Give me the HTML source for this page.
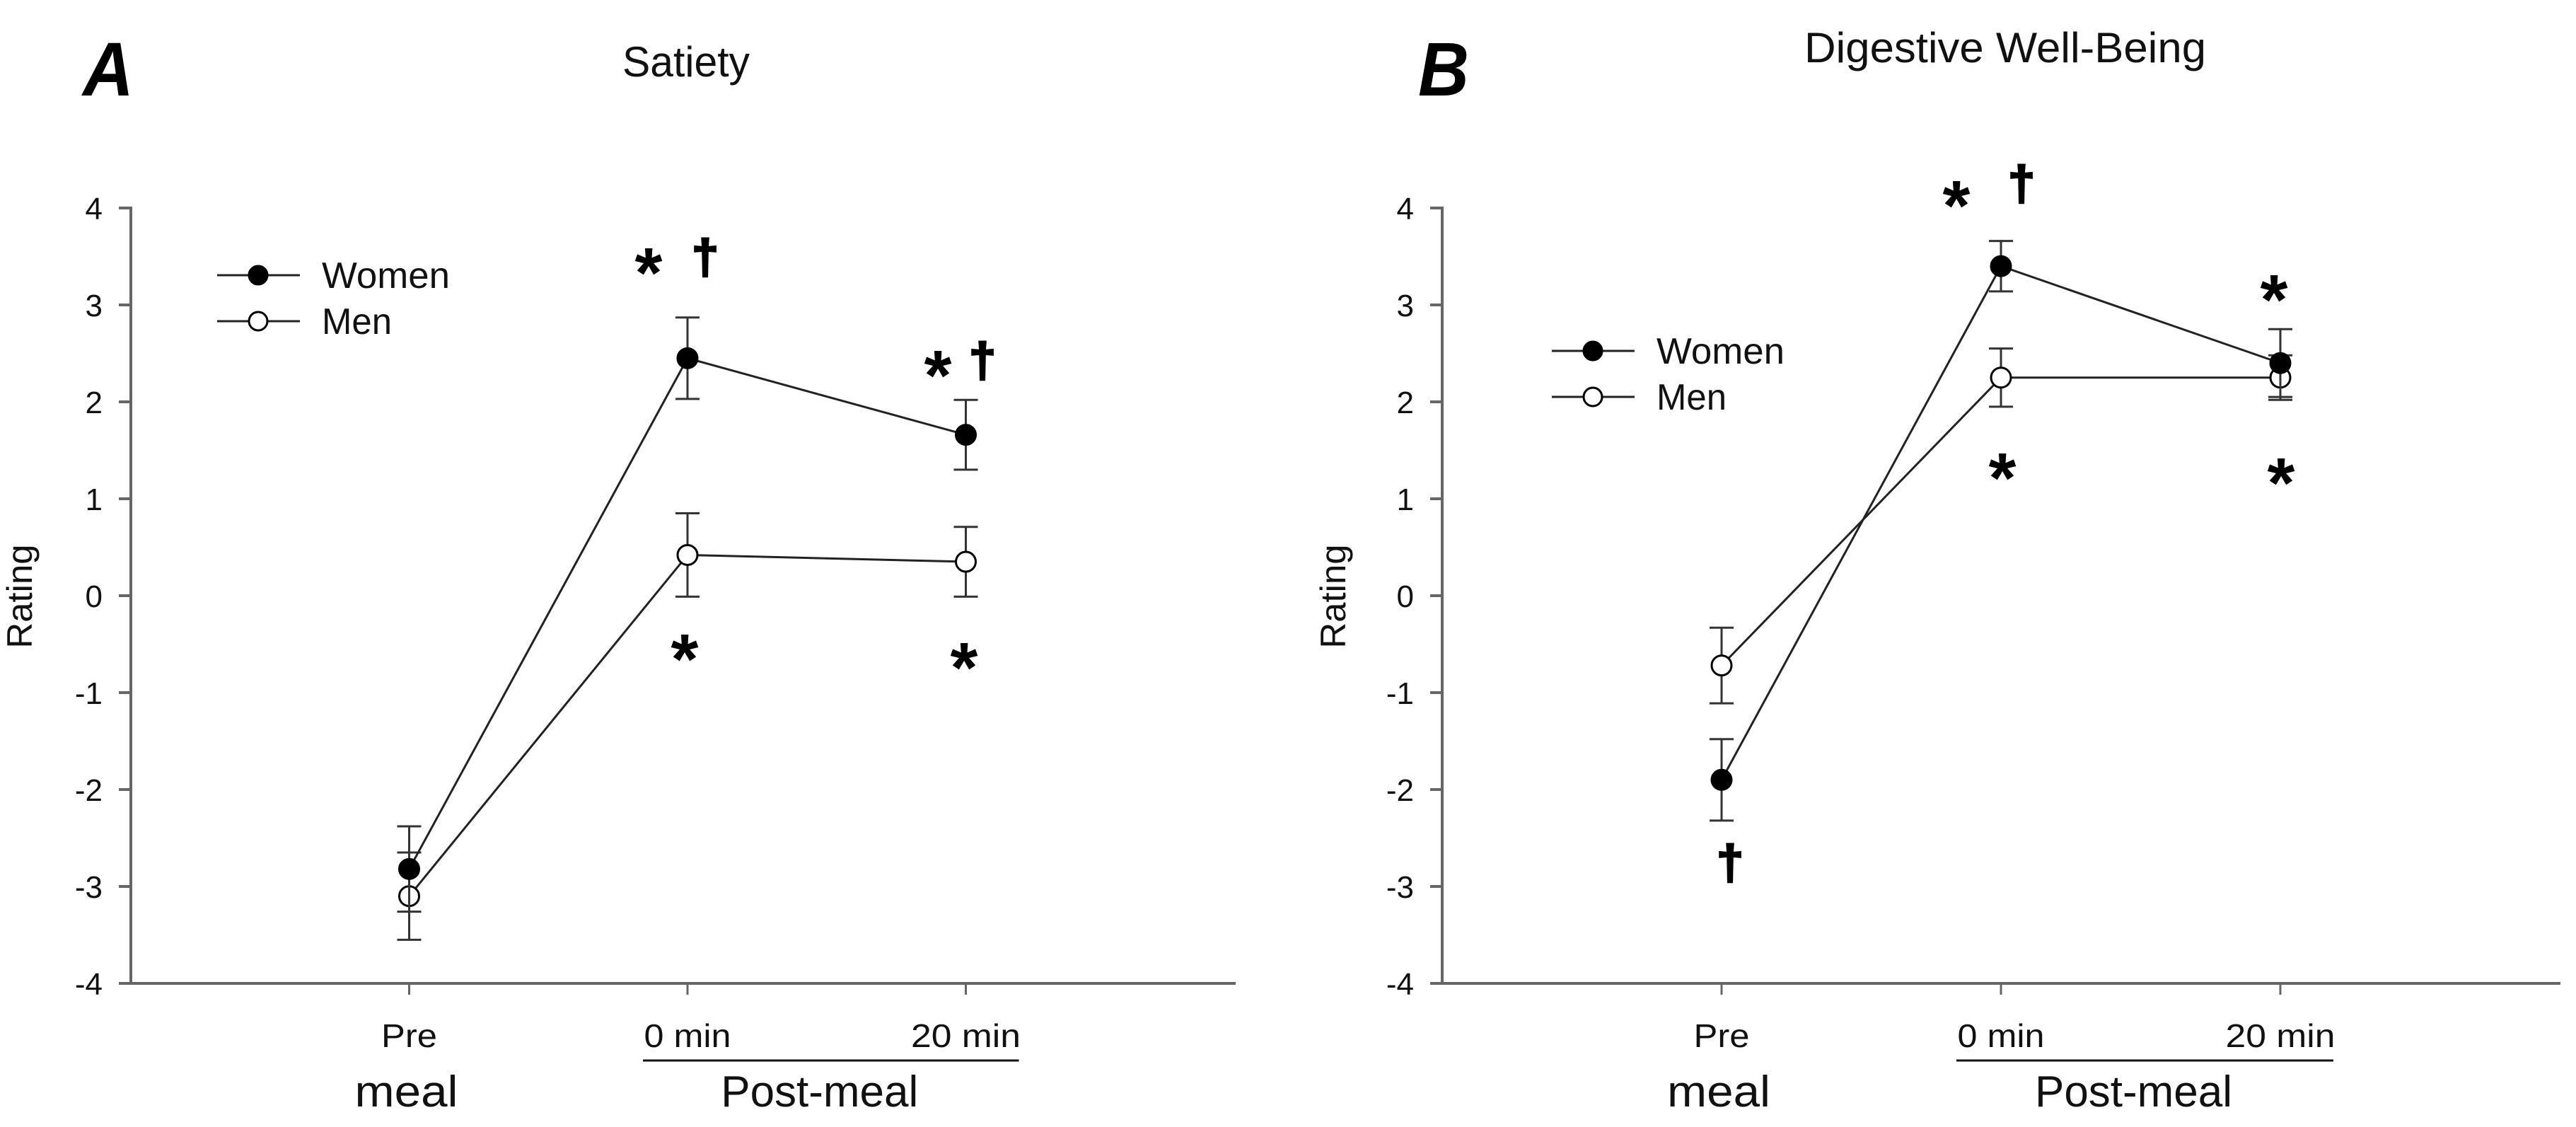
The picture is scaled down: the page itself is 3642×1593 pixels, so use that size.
<!DOCTYPE html>
<html><head><meta charset="utf-8"><style>
html,body{margin:0;padding:0;background:#fff;}
svg{display:block;font-family:"Liberation Sans",sans-serif;}
</style></head><body>
<svg id="fig" width="3642" height="1593" viewBox="0 0 3642 1593" xmlns="http://www.w3.org/2000/svg"></svg>
<script>
const categories = ["Pre", "0 min", "20 min"];
const yTicks = [4, 3, 2, 1, 0, -1, -2, -3, -4];
const satietyWomen = [-2.82, 2.45, 1.66];
const satietyWomenErr = [0.44, 0.42, 0.36];
const satietyMen = [-3.10, 0.42, 0.35];
const satietyMenErr = [0.45, 0.43, 0.36];
const digestWomen = [-1.90, 3.40, 2.40];
const digestWomenErr = [0.42, 0.26, 0.35];
const digestMen = [-0.72, 2.25, 2.25];
const digestMenErr = [0.39, 0.30, 0.23];

const NS = "http://www.w3.org/2000/svg";
const svg = document.getElementById("fig");
function mk(tag, attrs, parent, text) {
  const e = document.createElementNS(NS, tag);
  for (const k in attrs) e.setAttribute(k, attrs[k]);
  if (text !== undefined) e.textContent = text;
  (parent || svg).appendChild(e);
  return e;
}

function panel(cfg) {
  const g = mk("g", {});
  
  
  const ax = cfg.axisX, top = 294, bot = 1390;
  const yS = v => top + (4 - v) * (bot - top) / 8;
  const xS = i => ax + (i + 1) * cfg.step;
  const axes = mk("g", {stroke: "#666", "stroke-width": 4, fill: "none"}, g);
  
  
  mk("line", {x1: ax, y1: top - 2, x2: ax, y2: bot + 2}, axes);
  mk("line", {x1: ax - 2, y1: bot, x2: cfg.axisEnd, y2: bot}, axes);
  yTicks.forEach(t => {
    mk("line", {x1: ax - 17, y1: yS(t), x2: ax, y2: yS(t), "stroke-width": 4}, axes);
    const lb = mk("text", {x: ax - 40, y: yS(t) + 16, "text-anchor": "end", "font-size": 44, fill: "#111", stroke: "none"}, g, String(t));
    
    
  });
  categories.forEach((c, i) => {
    mk("line", {x1: xS(i), y1: bot, x2: xS(i), y2: bot + 16, "stroke-width": 3}, axes);
    const w = c === "Pre" ? 79 : (c === "0 min" ? 123 : 155);
    const lb = mk("text", {x: xS(i), y: 1480, "text-anchor": "middle", "font-size": 46, textLength: w, lengthAdjust: "spacingAndGlyphs", fill: "#111"}, g, c);
    
    
  });
  const ul = mk("line", {x1: xS(1) - 63, y1: 1499, x2: xS(2) + 75, y2: 1499, stroke: "#111", "stroke-width": 3}, g);
  
  
  const ml = mk("text", {x: xS(0) - 4, y: 1564, "text-anchor": "middle", "font-size": 62, textLength: 146, lengthAdjust: "spacingAndGlyphs", fill: "#111"}, g, "meal");
  
  
  const pm = mk("text", {x: (xS(1) + xS(2)) / 2 - 10, y: 1564, "text-anchor": "middle", "font-size": 62, textLength: 279, lengthAdjust: "spacingAndGlyphs", fill: "#111"}, g, "Post-meal");
  
  
  const yt = mk("text", {x: 0, y: 0, transform: `translate(${cfg.ratingX + 17},843) rotate(-90)`, "text-anchor": "middle", "font-size": 50, textLength: 147, lengthAdjust: "spacingAndGlyphs", fill: "#111"}, g, "Rating");
  
  
  const tt = mk("text", {x: cfg.titleX, y: cfg.titleY, "font-size": 60, textLength: cfg.titleW, lengthAdjust: "spacingAndGlyphs", fill: "#111"}, g, cfg.title);
  
  
  const pl = mk("text", {x: cfg.letterX, y: 135, "font-size": 108, "font-weight": "bold", "font-style": "italic", textLength: 72, lengthAdjust: "spacingAndGlyphs", fill: "#000"}, g, cfg.letter);
  
  
  const series = [
    {vals: cfg.men, err: cfg.menErr, fill: "#fff", name: "men"},
    {vals: cfg.women, err: cfg.womenErr, fill: "#000", name: "women"}
  ];
  series.forEach(s => {
    const sg = mk("g", {}, g);
    
    
    const pts = s.vals.map((v, i) => xS(i) + "," + yS(v)).join(" ");
    const ln = mk("polyline", {points: pts, fill: "none", stroke: "#222", "stroke-width": 3}, sg);
    
    
    s.vals.forEach((v, i) => {
      const x = xS(i), hi = yS(v + s.err[i]), lo = yS(v - s.err[i]);
      const eb = mk("path", {d: `M${x - 17},${hi}H${x + 17}M${x},${hi}V${lo}M${x - 17},${lo}H${x + 17}`, stroke: "#333", "stroke-width": 3, fill: "none"}, sg);
      
      
    });
    s.vals.forEach((v, i) => {
      const c = mk("circle", {cx: xS(i), cy: yS(v), r: 14, fill: s.fill, stroke: "#000", "stroke-width": 3}, sg);
      
      
    });
  });
  const lg = mk("g", {}, g);
  
  
  [["Women", "#000", cfg.legY, 181], ["Men", "#fff", cfg.legY + 65, 99]].forEach(([t, f, y, w]) => {
    const e = mk("g", {}, lg);
    
    
    mk("line", {x1: cfg.legX, y1: y, x2: cfg.legX + 117, y2: y, stroke: "#222", "stroke-width": 3}, e);
    mk("circle", {cx: cfg.legX + 58, cy: y, r: 13, fill: f, stroke: "#000", "stroke-width": 3}, e);
    mk("text", {x: cfg.legX + 148, y: y + 18, "font-size": 52, textLength: w, lengthAdjust: "spacingAndGlyphs", fill: "#111"}, e, t);
  });
  cfg.marks.forEach(([sym, x, y]) => {
    let t;
    if (sym === "*") t = mk("text", {x: x, y: y + 58, "text-anchor": "middle", "font-size": 100, "font-weight": "bold", fill: "#000"}, g, "*");
    else t = mk("text", {x: x, y: y + 20, "text-anchor": "middle", "font-size": 68, "font-weight": "bold", fill: "#000", stroke: "#000", "stroke-width": 3}, g, "†");
    
    
  });
}

panel({name: "panel-a-satiety", axisX: 185, step: 393.5, axisEnd: 1747, ratingX: 28,
  title: "Satiety", titleX: 880, titleY: 108, titleW: 180, letter: "A", letterX: 117,
  women: satietyWomen, womenErr: satietyWomenErr, men: satietyMen, menErr: satietyMenErr,
  legX: 307, legY: 389,
  marks: [["*", 917, 362], ["†", 997, 366], ["*", 1326, 507], ["†", 1389, 512], ["*", 968, 908], ["*", 1363, 920]]});
panel({name: "panel-b-digestive", axisX: 2039, step: 395, axisEnd: 3620, ratingX: 1885,
  title: "Digestive Well-Being", titleX: 2551, titleY: 88, titleW: 568, letter: "B", letterX: 2005,
  women: digestWomen, womenErr: digestWomenErr, men: digestMen, menErr: digestMenErr,
  legX: 2194, legY: 496,
  marks: [["*", 2766, 267], ["†", 2858, 262], ["*", 3215, 400], ["*", 2831, 652], ["*", 3225, 659], ["†", 2446, 1222]]});
</script>
</body></html>
